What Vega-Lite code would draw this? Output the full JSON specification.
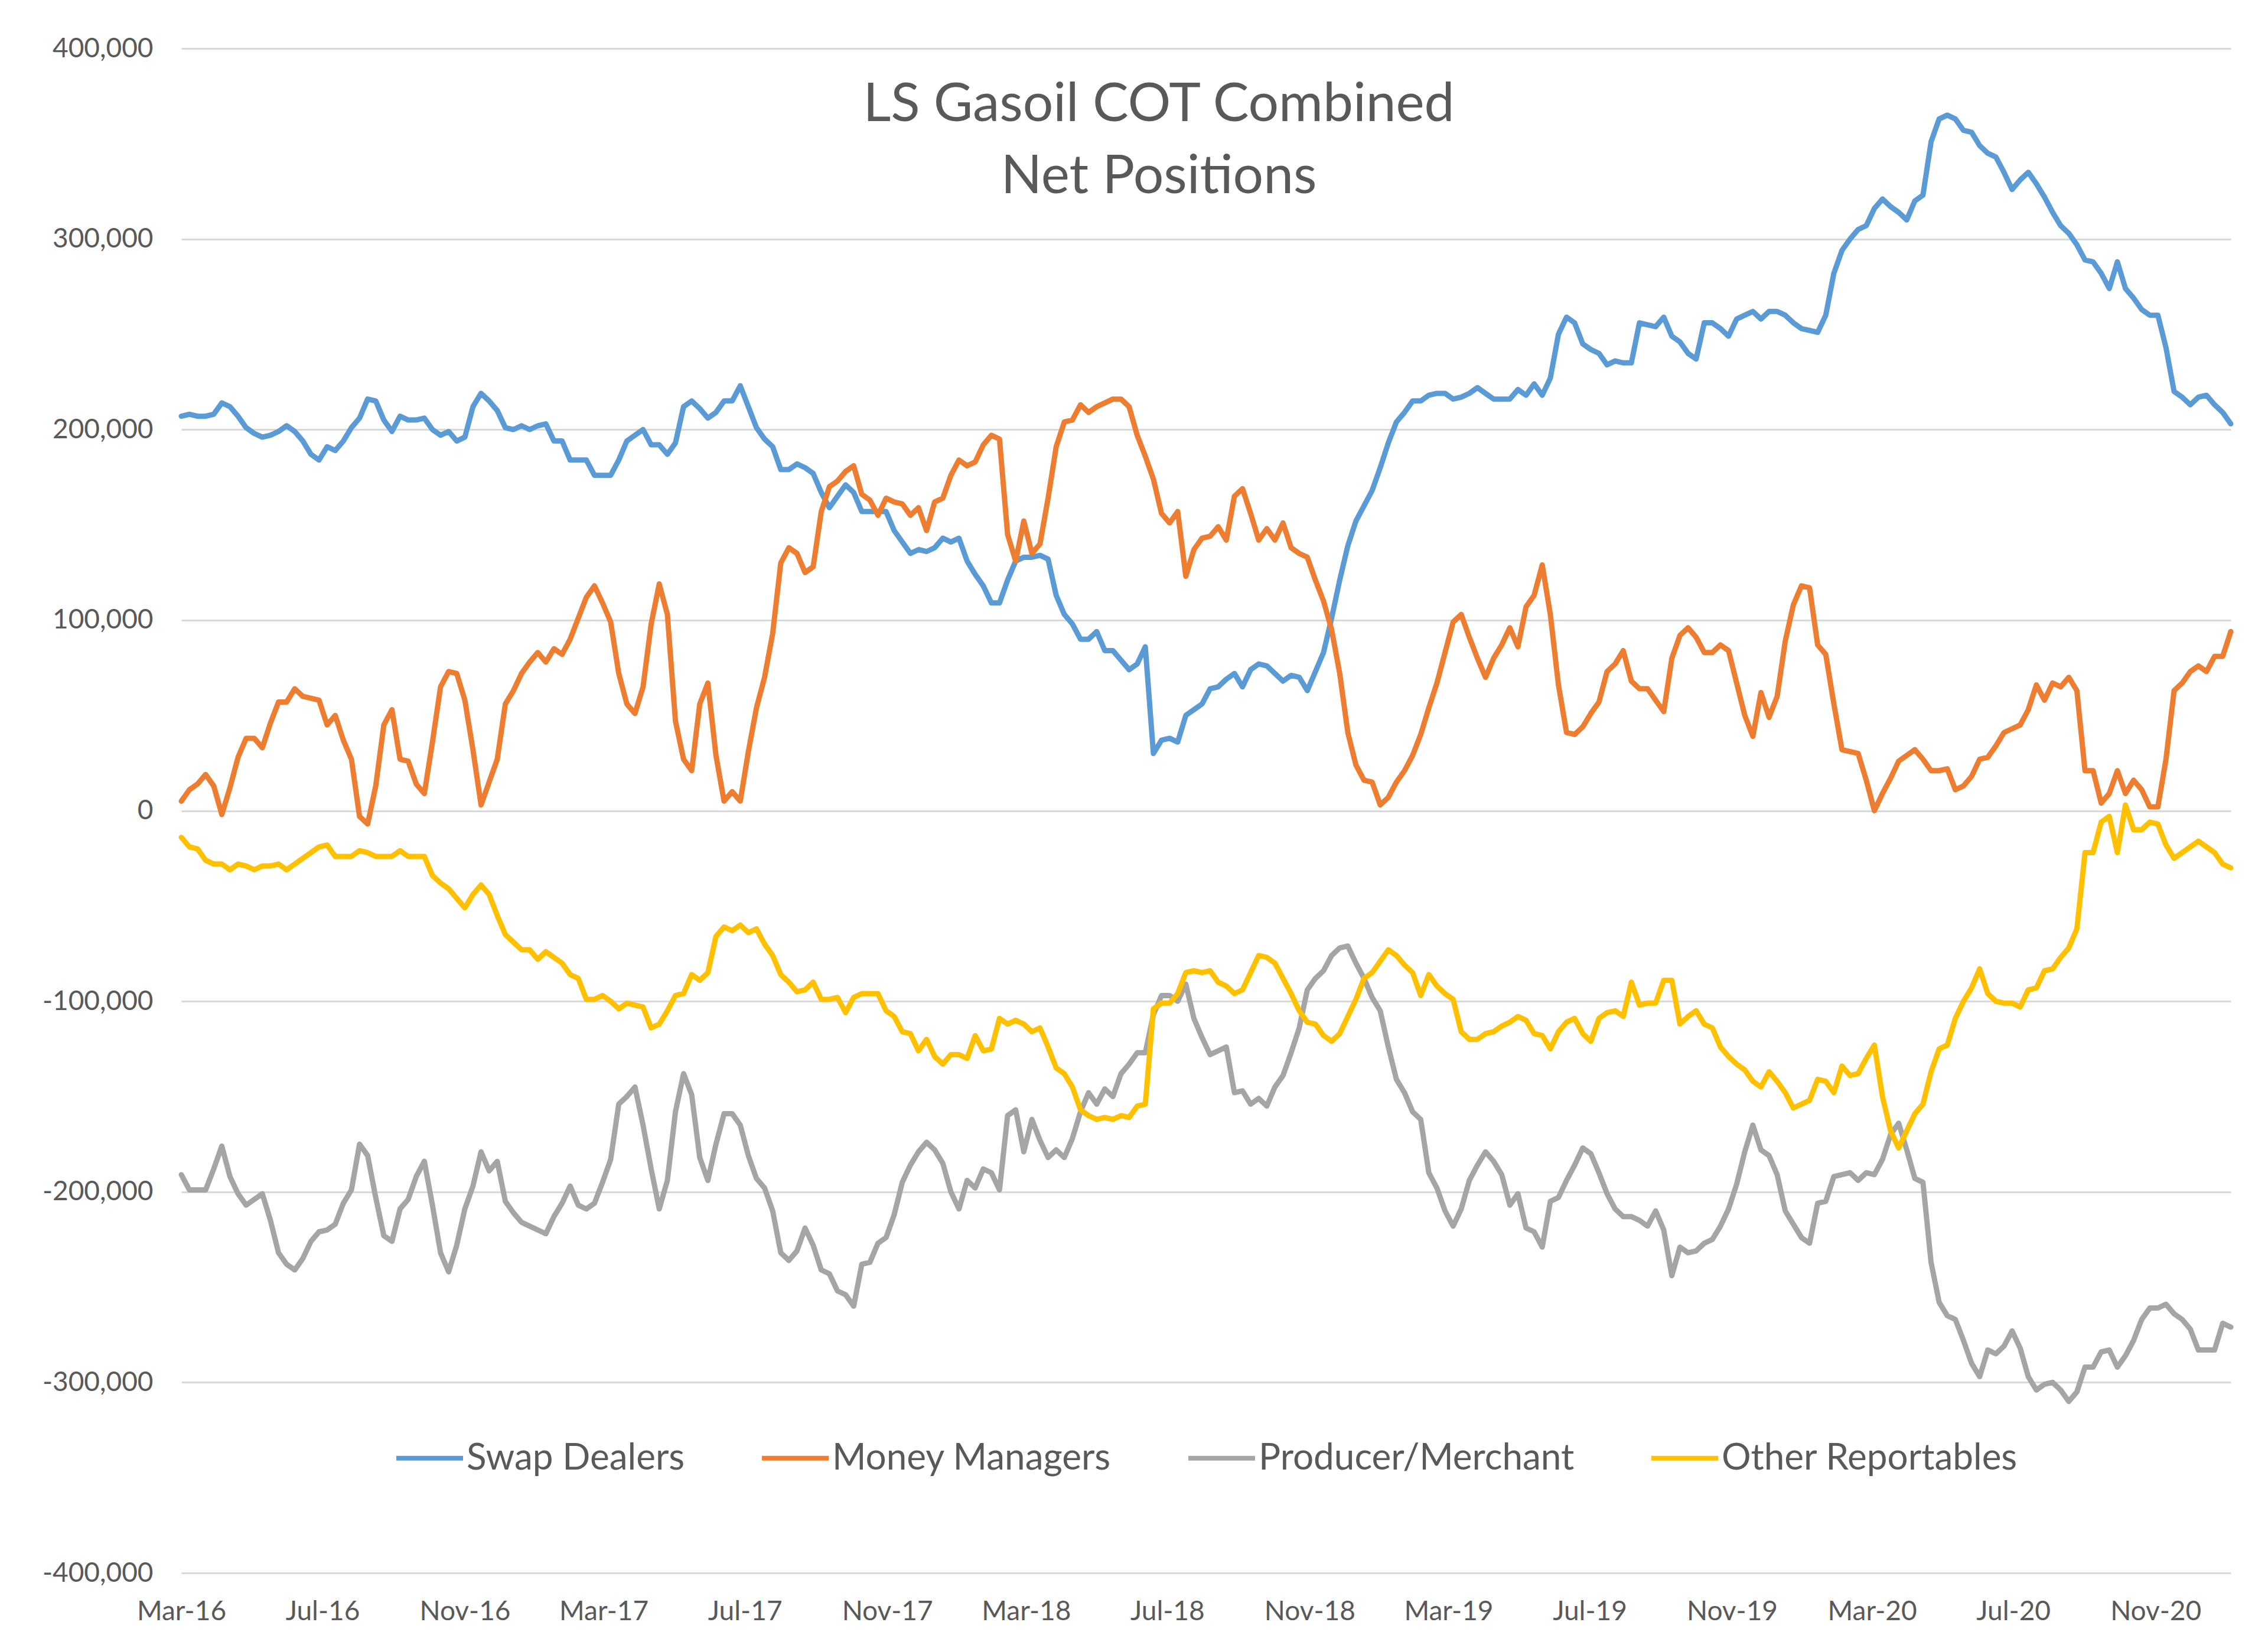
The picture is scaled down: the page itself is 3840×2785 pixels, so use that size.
{
"$schema":"https://vega.github.io/schema/vega-lite/v6.json",
"width":3470,"height":2581,
"autosize":{"type":"none"},
"padding":{"left":307,"top":82,"right":63,"bottom":122},
"background":"white",
"title":{"text":["LS Gasoil COT Combined","Net Positions"],"anchor":"middle","frame":"group","orient":"top","offset":-359,"baseline":"alphabetic","dx":-80,"fontSize":91,"lineHeight":122,"font":"Lato","fontWeight":"normal","color":"#595959"},
"datasets":{"w":[
{"d":"2016-03-01","sd":207000,"mm":5000,"pm":-191000,"or":-14000},
{"d":"2016-03-08","sd":208000,"mm":11000,"pm":-199000,"or":-19000},
{"d":"2016-03-15","sd":207000,"mm":14000,"pm":-199000,"or":-20000},
{"d":"2016-03-22","sd":207000,"mm":19000,"pm":-199000,"or":-26000},
{"d":"2016-03-29","sd":208000,"mm":13000,"pm":-188000,"or":-28000},
{"d":"2016-04-05","sd":214000,"mm":-2000,"pm":-176000,"or":-28000},
{"d":"2016-04-12","sd":212000,"mm":12000,"pm":-192000,"or":-31000},
{"d":"2016-04-19","sd":207000,"mm":28000,"pm":-201000,"or":-28000},
{"d":"2016-04-26","sd":201000,"mm":38000,"pm":-207000,"or":-29000},
{"d":"2016-05-03","sd":198000,"mm":38000,"pm":-204000,"or":-31000},
{"d":"2016-05-10","sd":196000,"mm":33000,"pm":-201000,"or":-29000},
{"d":"2016-05-17","sd":197000,"mm":46000,"pm":-215000,"or":-29000},
{"d":"2016-05-24","sd":199000,"mm":57000,"pm":-232000,"or":-28000},
{"d":"2016-05-31","sd":202000,"mm":57000,"pm":-238000,"or":-31000},
{"d":"2016-06-07","sd":199000,"mm":64000,"pm":-241000,"or":-28000},
{"d":"2016-06-14","sd":194000,"mm":60000,"pm":-235000,"or":-25000},
{"d":"2016-06-21","sd":187000,"mm":59000,"pm":-226000,"or":-22000},
{"d":"2016-06-28","sd":184000,"mm":58000,"pm":-221000,"or":-19000},
{"d":"2016-07-05","sd":191000,"mm":45000,"pm":-220000,"or":-18000},
{"d":"2016-07-12","sd":189000,"mm":50000,"pm":-217000,"or":-24000},
{"d":"2016-07-19","sd":194000,"mm":37000,"pm":-206000,"or":-24000},
{"d":"2016-07-26","sd":201000,"mm":27000,"pm":-199000,"or":-24000},
{"d":"2016-08-02","sd":206000,"mm":-3000,"pm":-175000,"or":-21000},
{"d":"2016-08-09","sd":216000,"mm":-7000,"pm":-181000,"or":-22000},
{"d":"2016-08-16","sd":215000,"mm":13000,"pm":-203000,"or":-24000},
{"d":"2016-08-23","sd":205000,"mm":45000,"pm":-223000,"or":-24000},
{"d":"2016-08-30","sd":199000,"mm":53000,"pm":-226000,"or":-24000},
{"d":"2016-09-06","sd":207000,"mm":27000,"pm":-209000,"or":-21000},
{"d":"2016-09-13","sd":205000,"mm":26000,"pm":-204000,"or":-24000},
{"d":"2016-09-20","sd":205000,"mm":14000,"pm":-192000,"or":-24000},
{"d":"2016-09-27","sd":206000,"mm":9000,"pm":-184000,"or":-24000},
{"d":"2016-10-04","sd":200000,"mm":36000,"pm":-207000,"or":-34000},
{"d":"2016-10-11","sd":197000,"mm":65000,"pm":-232000,"or":-38000},
{"d":"2016-10-18","sd":199000,"mm":73000,"pm":-242000,"or":-41000},
{"d":"2016-10-25","sd":194000,"mm":72000,"pm":-228000,"or":-46000},
{"d":"2016-11-01","sd":196000,"mm":58000,"pm":-209000,"or":-51000},
{"d":"2016-11-08","sd":212000,"mm":32000,"pm":-197000,"or":-44000},
{"d":"2016-11-15","sd":219000,"mm":3000,"pm":-179000,"or":-39000},
{"d":"2016-11-22","sd":215000,"mm":15000,"pm":-189000,"or":-44000},
{"d":"2016-11-29","sd":210000,"mm":27000,"pm":-184000,"or":-55000},
{"d":"2016-12-06","sd":201000,"mm":56000,"pm":-205000,"or":-65000},
{"d":"2016-12-13","sd":200000,"mm":63000,"pm":-211000,"or":-69000},
{"d":"2016-12-20","sd":202000,"mm":72000,"pm":-216000,"or":-73000},
{"d":"2016-12-27","sd":200000,"mm":78000,"pm":-218000,"or":-73000},
{"d":"2017-01-03","sd":202000,"mm":83000,"pm":-220000,"or":-78000},
{"d":"2017-01-10","sd":203000,"mm":78000,"pm":-222000,"or":-74000},
{"d":"2017-01-17","sd":194000,"mm":85000,"pm":-213000,"or":-77000},
{"d":"2017-01-24","sd":194000,"mm":82000,"pm":-206000,"or":-80000},
{"d":"2017-01-31","sd":184000,"mm":90000,"pm":-197000,"or":-86000},
{"d":"2017-02-07","sd":184000,"mm":101000,"pm":-207000,"or":-88000},
{"d":"2017-02-14","sd":184000,"mm":112000,"pm":-209000,"or":-99000},
{"d":"2017-02-21","sd":176000,"mm":118000,"pm":-206000,"or":-99000},
{"d":"2017-02-28","sd":176000,"mm":109000,"pm":-195000,"or":-97000},
{"d":"2017-03-07","sd":176000,"mm":99000,"pm":-183000,"or":-100000},
{"d":"2017-03-14","sd":184000,"mm":72000,"pm":-154000,"or":-104000},
{"d":"2017-03-21","sd":194000,"mm":56000,"pm":-150000,"or":-101000},
{"d":"2017-03-28","sd":197000,"mm":51000,"pm":-145000,"or":-102000},
{"d":"2017-04-04","sd":200000,"mm":65000,"pm":-165000,"or":-103000},
{"d":"2017-04-11","sd":192000,"mm":98000,"pm":-188000,"or":-114000},
{"d":"2017-04-18","sd":192000,"mm":119000,"pm":-209000,"or":-112000},
{"d":"2017-04-25","sd":187000,"mm":103000,"pm":-194000,"or":-105000},
{"d":"2017-05-02","sd":193000,"mm":47000,"pm":-158000,"or":-97000},
{"d":"2017-05-09","sd":212000,"mm":27000,"pm":-138000,"or":-96000},
{"d":"2017-05-16","sd":215000,"mm":21000,"pm":-149000,"or":-86000},
{"d":"2017-05-23","sd":211000,"mm":56000,"pm":-182000,"or":-89000},
{"d":"2017-05-30","sd":206000,"mm":67000,"pm":-194000,"or":-85000},
{"d":"2017-06-06","sd":209000,"mm":29000,"pm":-175000,"or":-66000},
{"d":"2017-06-13","sd":215000,"mm":5000,"pm":-159000,"or":-61000},
{"d":"2017-06-20","sd":215000,"mm":10000,"pm":-159000,"or":-63000},
{"d":"2017-06-27","sd":223000,"mm":5000,"pm":-165000,"or":-60000},
{"d":"2017-07-04","sd":212000,"mm":31000,"pm":-181000,"or":-64000},
{"d":"2017-07-11","sd":201000,"mm":54000,"pm":-193000,"or":-62000},
{"d":"2017-07-18","sd":195000,"mm":70000,"pm":-198000,"or":-70000},
{"d":"2017-07-25","sd":191000,"mm":93000,"pm":-210000,"or":-76000},
{"d":"2017-08-01","sd":179000,"mm":130000,"pm":-232000,"or":-86000},
{"d":"2017-08-08","sd":179000,"mm":138000,"pm":-236000,"or":-90000},
{"d":"2017-08-15","sd":182000,"mm":135000,"pm":-231000,"or":-95000},
{"d":"2017-08-22","sd":180000,"mm":125000,"pm":-219000,"or":-94000},
{"d":"2017-08-29","sd":177000,"mm":128000,"pm":-228000,"or":-90000},
{"d":"2017-09-05","sd":167000,"mm":157000,"pm":-241000,"or":-99000},
{"d":"2017-09-12","sd":159000,"mm":170000,"pm":-243000,"or":-99000},
{"d":"2017-09-19","sd":165000,"mm":173000,"pm":-252000,"or":-98000},
{"d":"2017-09-26","sd":171000,"mm":178000,"pm":-254000,"or":-106000},
{"d":"2017-10-03","sd":167000,"mm":181000,"pm":-260000,"or":-98000},
{"d":"2017-10-10","sd":157000,"mm":166000,"pm":-238000,"or":-96000},
{"d":"2017-10-17","sd":157000,"mm":163000,"pm":-237000,"or":-96000},
{"d":"2017-10-24","sd":157000,"mm":155000,"pm":-227000,"or":-96000},
{"d":"2017-10-31","sd":157000,"mm":164000,"pm":-224000,"or":-105000},
{"d":"2017-11-07","sd":147000,"mm":162000,"pm":-212000,"or":-108000},
{"d":"2017-11-14","sd":141000,"mm":161000,"pm":-195000,"or":-116000},
{"d":"2017-11-21","sd":135000,"mm":155000,"pm":-186000,"or":-117000},
{"d":"2017-11-28","sd":137000,"mm":159000,"pm":-179000,"or":-126000},
{"d":"2017-12-05","sd":136000,"mm":147000,"pm":-174000,"or":-120000},
{"d":"2017-12-12","sd":138000,"mm":162000,"pm":-178000,"or":-129000},
{"d":"2017-12-19","sd":143000,"mm":164000,"pm":-185000,"or":-133000},
{"d":"2017-12-26","sd":141000,"mm":176000,"pm":-200000,"or":-128000},
{"d":"2018-01-02","sd":143000,"mm":184000,"pm":-209000,"or":-128000},
{"d":"2018-01-09","sd":131000,"mm":181000,"pm":-194000,"or":-130000},
{"d":"2018-01-16","sd":124000,"mm":183000,"pm":-198000,"or":-118000},
{"d":"2018-01-23","sd":118000,"mm":192000,"pm":-188000,"or":-126000},
{"d":"2018-01-30","sd":109000,"mm":197000,"pm":-190000,"or":-125000},
{"d":"2018-02-06","sd":109000,"mm":195000,"pm":-199000,"or":-109000},
{"d":"2018-02-13","sd":121000,"mm":145000,"pm":-160000,"or":-112000},
{"d":"2018-02-20","sd":131000,"mm":131000,"pm":-157000,"or":-110000},
{"d":"2018-02-27","sd":133000,"mm":152000,"pm":-179000,"or":-112000},
{"d":"2018-03-06","sd":133000,"mm":135000,"pm":-162000,"or":-116000},
{"d":"2018-03-13","sd":134000,"mm":140000,"pm":-173000,"or":-114000},
{"d":"2018-03-20","sd":132000,"mm":164000,"pm":-182000,"or":-124000},
{"d":"2018-03-27","sd":113000,"mm":191000,"pm":-178000,"or":-135000},
{"d":"2018-04-03","sd":103000,"mm":204000,"pm":-182000,"or":-138000},
{"d":"2018-04-10","sd":98000,"mm":205000,"pm":-172000,"or":-145000},
{"d":"2018-04-17","sd":90000,"mm":213000,"pm":-158000,"or":-157000},
{"d":"2018-04-24","sd":90000,"mm":209000,"pm":-148000,"or":-160000},
{"d":"2018-05-01","sd":94000,"mm":212000,"pm":-154000,"or":-162000},
{"d":"2018-05-08","sd":84000,"mm":214000,"pm":-146000,"or":-161000},
{"d":"2018-05-15","sd":84000,"mm":216000,"pm":-150000,"or":-162000},
{"d":"2018-05-22","sd":79000,"mm":216000,"pm":-138000,"or":-160000},
{"d":"2018-05-29","sd":74000,"mm":212000,"pm":-133000,"or":-161000},
{"d":"2018-06-05","sd":77000,"mm":197000,"pm":-127000,"or":-155000},
{"d":"2018-06-12","sd":86000,"mm":186000,"pm":-127000,"or":-154000},
{"d":"2018-06-19","sd":30000,"mm":174000,"pm":-107000,"or":-104000},
{"d":"2018-06-26","sd":37000,"mm":156000,"pm":-97000,"or":-101000},
{"d":"2018-07-03","sd":38000,"mm":151000,"pm":-97000,"or":-101000},
{"d":"2018-07-10","sd":36000,"mm":157000,"pm":-100000,"or":-96000},
{"d":"2018-07-17","sd":50000,"mm":123000,"pm":-91000,"or":-85000},
{"d":"2018-07-24","sd":53000,"mm":137000,"pm":-109000,"or":-84000},
{"d":"2018-07-31","sd":56000,"mm":143000,"pm":-119000,"or":-85000},
{"d":"2018-08-07","sd":64000,"mm":144000,"pm":-128000,"or":-84000},
{"d":"2018-08-14","sd":65000,"mm":149000,"pm":-126000,"or":-90000},
{"d":"2018-08-21","sd":69000,"mm":142000,"pm":-124000,"or":-92000},
{"d":"2018-08-28","sd":72000,"mm":165000,"pm":-148000,"or":-96000},
{"d":"2018-09-04","sd":65000,"mm":169000,"pm":-147000,"or":-94000},
{"d":"2018-09-11","sd":74000,"mm":156000,"pm":-154000,"or":-85000},
{"d":"2018-09-18","sd":77000,"mm":142000,"pm":-151000,"or":-76000},
{"d":"2018-09-25","sd":76000,"mm":148000,"pm":-155000,"or":-77000},
{"d":"2018-10-02","sd":72000,"mm":142000,"pm":-145000,"or":-80000},
{"d":"2018-10-09","sd":68000,"mm":151000,"pm":-139000,"or":-88000},
{"d":"2018-10-16","sd":71000,"mm":138000,"pm":-127000,"or":-96000},
{"d":"2018-10-23","sd":70000,"mm":135000,"pm":-114000,"or":-105000},
{"d":"2018-10-30","sd":63000,"mm":133000,"pm":-94000,"or":-111000},
{"d":"2018-11-06","sd":73000,"mm":121000,"pm":-88000,"or":-112000},
{"d":"2018-11-13","sd":83000,"mm":110000,"pm":-84000,"or":-118000},
{"d":"2018-11-20","sd":101000,"mm":95000,"pm":-76000,"or":-121000},
{"d":"2018-11-27","sd":121000,"mm":72000,"pm":-72000,"or":-117000},
{"d":"2018-12-04","sd":139000,"mm":41000,"pm":-71000,"or":-108000},
{"d":"2018-12-11","sd":152000,"mm":24000,"pm":-80000,"or":-99000},
{"d":"2018-12-18","sd":160000,"mm":16000,"pm":-88000,"or":-88000},
{"d":"2018-12-25","sd":168000,"mm":15000,"pm":-98000,"or":-85000},
{"d":"2019-01-01","sd":180000,"mm":3000,"pm":-105000,"or":-79000},
{"d":"2019-01-08","sd":193000,"mm":7000,"pm":-124000,"or":-73000},
{"d":"2019-01-15","sd":204000,"mm":15000,"pm":-141000,"or":-76000},
{"d":"2019-01-22","sd":209000,"mm":21000,"pm":-148000,"or":-81000},
{"d":"2019-01-29","sd":215000,"mm":29000,"pm":-158000,"or":-85000},
{"d":"2019-02-05","sd":215000,"mm":40000,"pm":-162000,"or":-97000},
{"d":"2019-02-12","sd":218000,"mm":54000,"pm":-190000,"or":-86000},
{"d":"2019-02-19","sd":219000,"mm":67000,"pm":-198000,"or":-92000},
{"d":"2019-02-26","sd":219000,"mm":83000,"pm":-210000,"or":-96000},
{"d":"2019-03-05","sd":216000,"mm":99000,"pm":-218000,"or":-99000},
{"d":"2019-03-12","sd":217000,"mm":103000,"pm":-209000,"or":-116000},
{"d":"2019-03-19","sd":219000,"mm":91000,"pm":-194000,"or":-120000},
{"d":"2019-03-26","sd":222000,"mm":80000,"pm":-186000,"or":-120000},
{"d":"2019-04-02","sd":219000,"mm":70000,"pm":-179000,"or":-117000},
{"d":"2019-04-09","sd":216000,"mm":80000,"pm":-184000,"or":-116000},
{"d":"2019-04-16","sd":216000,"mm":87000,"pm":-191000,"or":-113000},
{"d":"2019-04-23","sd":216000,"mm":96000,"pm":-207000,"or":-111000},
{"d":"2019-04-30","sd":221000,"mm":86000,"pm":-201000,"or":-108000},
{"d":"2019-05-07","sd":218000,"mm":107000,"pm":-219000,"or":-110000},
{"d":"2019-05-14","sd":224000,"mm":113000,"pm":-221000,"or":-117000},
{"d":"2019-05-21","sd":218000,"mm":129000,"pm":-229000,"or":-118000},
{"d":"2019-05-28","sd":227000,"mm":103000,"pm":-205000,"or":-125000},
{"d":"2019-06-04","sd":250000,"mm":66000,"pm":-203000,"or":-116000},
{"d":"2019-06-11","sd":259000,"mm":41000,"pm":-194000,"or":-111000},
{"d":"2019-06-18","sd":256000,"mm":40000,"pm":-186000,"or":-109000},
{"d":"2019-06-25","sd":245000,"mm":44000,"pm":-177000,"or":-117000},
{"d":"2019-07-02","sd":242000,"mm":51000,"pm":-180000,"or":-121000},
{"d":"2019-07-09","sd":240000,"mm":57000,"pm":-190000,"or":-109000},
{"d":"2019-07-16","sd":234000,"mm":73000,"pm":-201000,"or":-106000},
{"d":"2019-07-23","sd":236000,"mm":77000,"pm":-209000,"or":-105000},
{"d":"2019-07-30","sd":235000,"mm":84000,"pm":-213000,"or":-108000},
{"d":"2019-08-06","sd":235000,"mm":68000,"pm":-213000,"or":-90000},
{"d":"2019-08-13","sd":256000,"mm":64000,"pm":-215000,"or":-102000},
{"d":"2019-08-20","sd":255000,"mm":64000,"pm":-218000,"or":-101000},
{"d":"2019-08-27","sd":254000,"mm":58000,"pm":-210000,"or":-101000},
{"d":"2019-09-03","sd":259000,"mm":52000,"pm":-220000,"or":-89000},
{"d":"2019-09-10","sd":249000,"mm":80000,"pm":-244000,"or":-89000},
{"d":"2019-09-17","sd":246000,"mm":92000,"pm":-229000,"or":-112000},
{"d":"2019-09-24","sd":240000,"mm":96000,"pm":-232000,"or":-108000},
{"d":"2019-10-01","sd":237000,"mm":91000,"pm":-231000,"or":-105000},
{"d":"2019-10-08","sd":256000,"mm":83000,"pm":-227000,"or":-112000},
{"d":"2019-10-15","sd":256000,"mm":83000,"pm":-225000,"or":-114000},
{"d":"2019-10-22","sd":253000,"mm":87000,"pm":-218000,"or":-124000},
{"d":"2019-10-29","sd":249000,"mm":84000,"pm":-209000,"or":-129000},
{"d":"2019-11-05","sd":258000,"mm":67000,"pm":-196000,"or":-133000},
{"d":"2019-11-12","sd":260000,"mm":50000,"pm":-179000,"or":-136000},
{"d":"2019-11-19","sd":262000,"mm":39000,"pm":-165000,"or":-142000},
{"d":"2019-11-26","sd":258000,"mm":62000,"pm":-178000,"or":-145000},
{"d":"2019-12-03","sd":262000,"mm":49000,"pm":-181000,"or":-137000},
{"d":"2019-12-10","sd":262000,"mm":60000,"pm":-191000,"or":-142000},
{"d":"2019-12-17","sd":260000,"mm":89000,"pm":-210000,"or":-148000},
{"d":"2019-12-24","sd":256000,"mm":108000,"pm":-217000,"or":-156000},
{"d":"2019-12-31","sd":253000,"mm":118000,"pm":-224000,"or":-154000},
{"d":"2020-01-07","sd":252000,"mm":117000,"pm":-227000,"or":-152000},
{"d":"2020-01-14","sd":251000,"mm":87000,"pm":-206000,"or":-141000},
{"d":"2020-01-21","sd":260000,"mm":82000,"pm":-205000,"or":-142000},
{"d":"2020-01-28","sd":282000,"mm":56000,"pm":-192000,"or":-148000},
{"d":"2020-02-04","sd":294000,"mm":32000,"pm":-191000,"or":-134000},
{"d":"2020-02-11","sd":300000,"mm":31000,"pm":-190000,"or":-139000},
{"d":"2020-02-18","sd":305000,"mm":30000,"pm":-194000,"or":-138000},
{"d":"2020-02-25","sd":307000,"mm":16000,"pm":-190000,"or":-130000},
{"d":"2020-03-03","sd":316000,"mm":0,"pm":-191000,"or":-123000},
{"d":"2020-03-10","sd":321000,"mm":9000,"pm":-183000,"or":-150000},
{"d":"2020-03-17","sd":317000,"mm":17000,"pm":-170000,"or":-168000},
{"d":"2020-03-24","sd":314000,"mm":26000,"pm":-164000,"or":-177000},
{"d":"2020-03-31","sd":310000,"mm":29000,"pm":-178000,"or":-168000},
{"d":"2020-04-07","sd":320000,"mm":32000,"pm":-193000,"or":-159000},
{"d":"2020-04-14","sd":323000,"mm":27000,"pm":-195000,"or":-154000},
{"d":"2020-04-21","sd":351000,"mm":21000,"pm":-237000,"or":-137000},
{"d":"2020-04-28","sd":363000,"mm":21000,"pm":-258000,"or":-125000},
{"d":"2020-05-05","sd":365000,"mm":22000,"pm":-265000,"or":-123000},
{"d":"2020-05-12","sd":363000,"mm":11000,"pm":-267000,"or":-109000},
{"d":"2020-05-19","sd":357000,"mm":13000,"pm":-278000,"or":-100000},
{"d":"2020-05-26","sd":356000,"mm":18000,"pm":-290000,"or":-93000},
{"d":"2020-06-02","sd":349000,"mm":27000,"pm":-297000,"or":-83000},
{"d":"2020-06-09","sd":345000,"mm":28000,"pm":-283000,"or":-96000},
{"d":"2020-06-16","sd":343000,"mm":34000,"pm":-285000,"or":-100000},
{"d":"2020-06-23","sd":335000,"mm":41000,"pm":-281000,"or":-101000},
{"d":"2020-06-30","sd":326000,"mm":43000,"pm":-273000,"or":-101000},
{"d":"2020-07-07","sd":331000,"mm":45000,"pm":-282000,"or":-103000},
{"d":"2020-07-14","sd":335000,"mm":53000,"pm":-297000,"or":-94000},
{"d":"2020-07-21","sd":329000,"mm":66000,"pm":-304000,"or":-93000},
{"d":"2020-07-28","sd":322000,"mm":58000,"pm":-301000,"or":-84000},
{"d":"2020-08-04","sd":314000,"mm":67000,"pm":-300000,"or":-83000},
{"d":"2020-08-11","sd":307000,"mm":65000,"pm":-304000,"or":-77000},
{"d":"2020-08-18","sd":303000,"mm":70000,"pm":-310000,"or":-72000},
{"d":"2020-08-25","sd":297000,"mm":63000,"pm":-305000,"or":-62000},
{"d":"2020-09-01","sd":289000,"mm":21000,"pm":-292000,"or":-22000},
{"d":"2020-09-08","sd":288000,"mm":21000,"pm":-292000,"or":-22000},
{"d":"2020-09-15","sd":282000,"mm":4000,"pm":-284000,"or":-6000},
{"d":"2020-09-22","sd":274000,"mm":9000,"pm":-283000,"or":-3000},
{"d":"2020-09-29","sd":288000,"mm":21000,"pm":-292000,"or":-22000},
{"d":"2020-10-06","sd":274000,"mm":9000,"pm":-286000,"or":3000},
{"d":"2020-10-13","sd":269000,"mm":16000,"pm":-278000,"or":-10000},
{"d":"2020-10-20","sd":263000,"mm":11000,"pm":-267000,"or":-10000},
{"d":"2020-10-27","sd":260000,"mm":2000,"pm":-261000,"or":-6000},
{"d":"2020-11-03","sd":260000,"mm":2000,"pm":-261000,"or":-7000},
{"d":"2020-11-10","sd":243000,"mm":27000,"pm":-259000,"or":-18000},
{"d":"2020-11-17","sd":220000,"mm":63000,"pm":-264000,"or":-25000},
{"d":"2020-11-24","sd":217000,"mm":67000,"pm":-267000,"or":-22000},
{"d":"2020-12-01","sd":213000,"mm":73000,"pm":-272000,"or":-19000},
{"d":"2020-12-08","sd":217000,"mm":76000,"pm":-283000,"or":-16000},
{"d":"2020-12-15","sd":218000,"mm":73000,"pm":-283000,"or":-19000},
{"d":"2020-12-22","sd":213000,"mm":81000,"pm":-283000,"or":-22000},
{"d":"2020-12-29","sd":209000,"mm":81000,"pm":-269000,"or":-28000},
{"d":"2021-01-05","sd":203000,"mm":94000,"pm":-271000,"or":-30000}
]},
"data":{"name":"w"},
"encoding":{
"x":{"field":"d","type":"temporal","title":null,
"scale":{"type":"utc","domain":[{"year":2016,"month":3,"date":1,"utc":true},{"year":2021,"month":1,"date":5,"utc":true}]},
"axis":{"values":[
{"year":2016,"month":3,"date":1,"utc":true},{"year":2016,"month":7,"date":1,"utc":true},{"year":2016,"month":11,"date":1,"utc":true},
{"year":2017,"month":3,"date":1,"utc":true},{"year":2017,"month":7,"date":1,"utc":true},{"year":2017,"month":11,"date":1,"utc":true},
{"year":2018,"month":3,"date":1,"utc":true},{"year":2018,"month":7,"date":1,"utc":true},{"year":2018,"month":11,"date":1,"utc":true},
{"year":2019,"month":3,"date":1,"utc":true},{"year":2019,"month":7,"date":1,"utc":true},{"year":2019,"month":11,"date":1,"utc":true},
{"year":2020,"month":3,"date":1,"utc":true},{"year":2020,"month":7,"date":1,"utc":true},{"year":2020,"month":11,"date":1,"utc":true}],
"labelExpr":"utcFormat(datum.value, '%b-%y')","grid":false,"domain":false,"ticks":false,"tickSize":0,"labelPadding":43,"labelFlush":false,"labelOverlap":false,
"labelFont":"Lato","labelFontSize":46,"labelColor":"#595959"}}
},
"layer":[
{"mark":{"type":"line","strokeWidth":9,"strokeJoin":"round","strokeCap":"round"},
"encoding":{
"y":{"field":"sd","type":"quantitative","title":null,
"scale":{"domain":[-400000,400000],"nice":false,"zero":false},
"axis":{"values":[-400000,-300000,-200000,-100000,0,100000,200000,300000,400000],"labelExpr":"(datum.value < 0 ? '-' : '') + format(abs(datum.value), ',')","labelLimit":500,"grid":true,"gridColor":"#D9D9D9","gridWidth":3,"domain":false,"ticks":false,"tickSize":0,"labelPadding":48,"labelFont":"Lato","labelFontSize":46,"labelColor":"#595959"}},
"color":{"datum":"Swap Dealers","type":"nominal",
"scale":{"domain":["Swap Dealers","Money Managers","Producer/Merchant","Other Reportables"],"range":["#5B9BD5","#ED7D31","#A5A5A5","#FFC000"]},
"legend":{"orient":"none","legendX":360,"legendY":2326,"direction":"horizontal","title":null,"symbolType":"stroke","symbolSize":12769,"symbolStrokeWidth":8,"labelFont":"Lato","labelFontSize":62,"labelColor":"#595959","labelOffset":2,"columnPadding":114,"padding":0,"labelLimit":1000}}}},
{"mark":{"type":"line","strokeWidth":9,"strokeJoin":"round","strokeCap":"round"},
"encoding":{"y":{"field":"mm","type":"quantitative","title":null},"color":{"datum":"Money Managers","type":"nominal"}}},
{"mark":{"type":"line","strokeWidth":9,"strokeJoin":"round","strokeCap":"round"},
"encoding":{"y":{"field":"pm","type":"quantitative","title":null},"color":{"datum":"Producer/Merchant","type":"nominal"}}},
{"mark":{"type":"line","strokeWidth":9,"strokeJoin":"round","strokeCap":"round"},
"encoding":{"y":{"field":"or","type":"quantitative","title":null},"color":{"datum":"Other Reportables","type":"nominal"}}}
],
"config":{"view":{"stroke":null},"font":"Lato","axisY":{"labelExpr":"(datum.value < 0 ? '-' : '') + format(abs(datum.value), ',')","labelLimit":500}}
}
